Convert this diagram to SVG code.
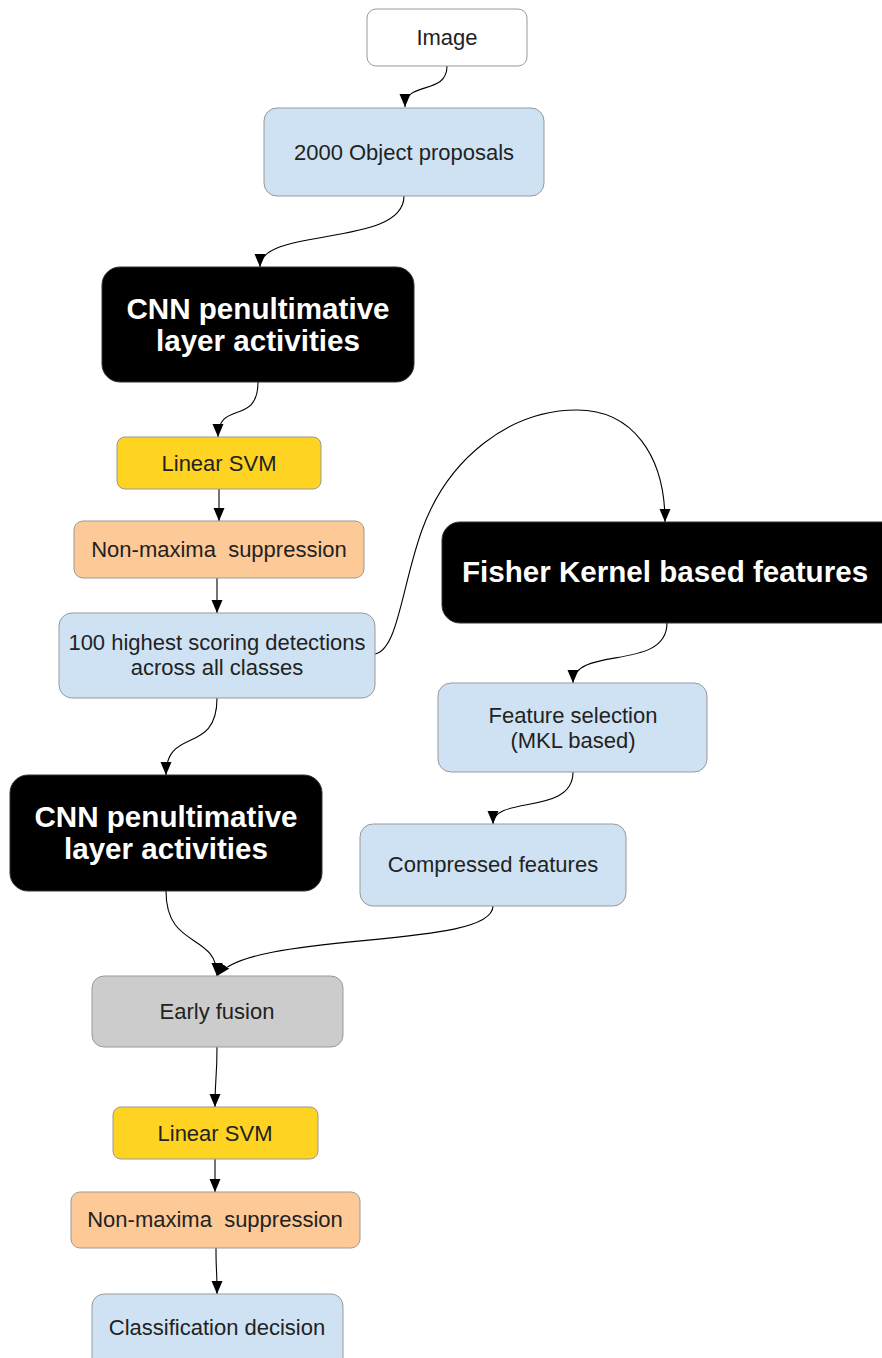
<svg xmlns="http://www.w3.org/2000/svg" width="882" height="1358" viewBox="0 0 882 1358">
<style>
.box{stroke:#999999;stroke-width:1}
.white{fill:#ffffff}
.blue{fill:#cfe2f3}
.gold{fill:#fed322}
.peach{fill:#fdc996}
.grey{fill:#cccccc}
.black{fill:#000000;stroke:#333333;stroke-width:1}
.t{font-family:"Liberation Sans",Arial,sans-serif;font-size:22px;fill:#222222;text-anchor:middle}
.tb{font-family:"Liberation Sans",Arial,sans-serif;font-size:29.6px;font-weight:bold;fill:#ffffff;text-anchor:middle}
.c{fill:none;stroke:#000000;stroke-width:1.1;marker-end:url(#arr)}
</style>
<defs>
<marker id="arr" markerUnits="userSpaceOnUse" markerWidth="14" markerHeight="12" refX="13" refY="6" orient="auto">
<path d="M0,0.5 L13,6 L0,11.5 z" fill="#000000"/>
</marker>
</defs>
<rect width="882" height="1358" fill="#ffffff"/>

<g id="connectors">
<path class="c" d="M447,66 C447,96 405,80 405,107"/>
<path class="c" d="M404,196 C404,248 260,226 260,267"/>
<path class="c" d="M258,382 C258,426 218,400 218,437"/>
<path class="c" d="M219,489 L219,521"/>
<path class="c" d="M217,578 L217,613"/>
<path class="c" d="M375,654 C398,650 402,585 422,530 C448,458 510,410 577,410 C632,410 665,455 665,522"/>
<path class="c" d="M667,623 C667,672 573,645 573,683"/>
<path class="c" d="M573,772 C573,816 493,795 493,824"/>
<path class="c" d="M217,698 C217,756 166,726 166,775"/>
<path class="c" d="M166,891 C166,950 217,932 217,976"/>
<path class="c" d="M493,906 C493,950 250,930 217,976"/>
<path class="c" d="M217,1047 C217,1080 215,1076 215,1107"/>
<path class="c" d="M215,1159 L215,1192"/>
<path class="c" d="M216,1248 C216,1275 217,1266 217,1294"/>
</g>

<g id="image">
<rect class="box white" x="367" y="9" width="160" height="57" rx="9"/>
<text class="t" x="447" y="45">Image</text>
</g>
<g id="proposals">
<rect class="box blue" x="264" y="108" width="280" height="88" rx="13"/>
<text class="t" x="404" y="160">2000 Object proposals</text>
</g>
<g id="cnn1">
<rect class="black" x="102" y="267" width="312" height="115" rx="18"/>
<text class="tb" x="258" y="319">CNN penultimative</text>
<text class="tb" x="258" y="351">layer activities</text>
</g>
<g id="svm1">
<rect class="box gold" x="117" y="437" width="204" height="52" rx="8"/>
<text class="t" x="219" y="471">Linear SVM</text>
</g>
<g id="nms1">
<rect class="box peach" x="74" y="521" width="290" height="57" rx="9"/>
<text class="t" x="219" y="557" xml:space="preserve">Non-maxima  suppression</text>
</g>
<g id="top100">
<rect class="box blue" x="59" y="613" width="316" height="85" rx="13"/>
<text class="t" x="217" y="650">100 highest scoring detections</text>
<text class="t" x="217" y="675">across all classes</text>
</g>
<g id="fisher">
<rect class="black" x="442" y="522" width="470" height="101" rx="18"/>
<text class="tb" x="665" y="582">Fisher Kernel based features</text>
</g>
<g id="featsel">
<rect class="box blue" x="438" y="683" width="269" height="89" rx="13"/>
<text class="t" x="573" y="723">Feature selection</text>
<text class="t" x="573" y="748">(MKL based)</text>
</g>
<g id="cnn2">
<rect class="black" x="10" y="775" width="312" height="116" rx="18"/>
<text class="tb" x="166" y="827">CNN penultimative</text>
<text class="tb" x="166" y="859">layer activities</text>
</g>
<g id="compressed">
<rect class="box blue" x="360" y="824" width="266" height="82" rx="13"/>
<text class="t" x="493" y="872">Compressed features</text>
</g>
<g id="fusion">
<rect class="box grey" x="92" y="976" width="251" height="71" rx="12"/>
<text class="t" x="217" y="1019">Early fusion</text>
</g>
<g id="svm2">
<rect class="box gold" x="113" y="1107" width="205" height="52" rx="8"/>
<text class="t" x="215" y="1141">Linear SVM</text>
</g>
<g id="nms2">
<rect class="box peach" x="71" y="1192" width="289" height="56" rx="9"/>
<text class="t" x="215" y="1227" xml:space="preserve">Non-maxima  suppression</text>
</g>
<g id="classification">
<rect class="box blue" x="92" y="1294" width="251" height="80" rx="12"/>
<text class="t" x="217" y="1335">Classification decision</text>
</g>
</svg>
